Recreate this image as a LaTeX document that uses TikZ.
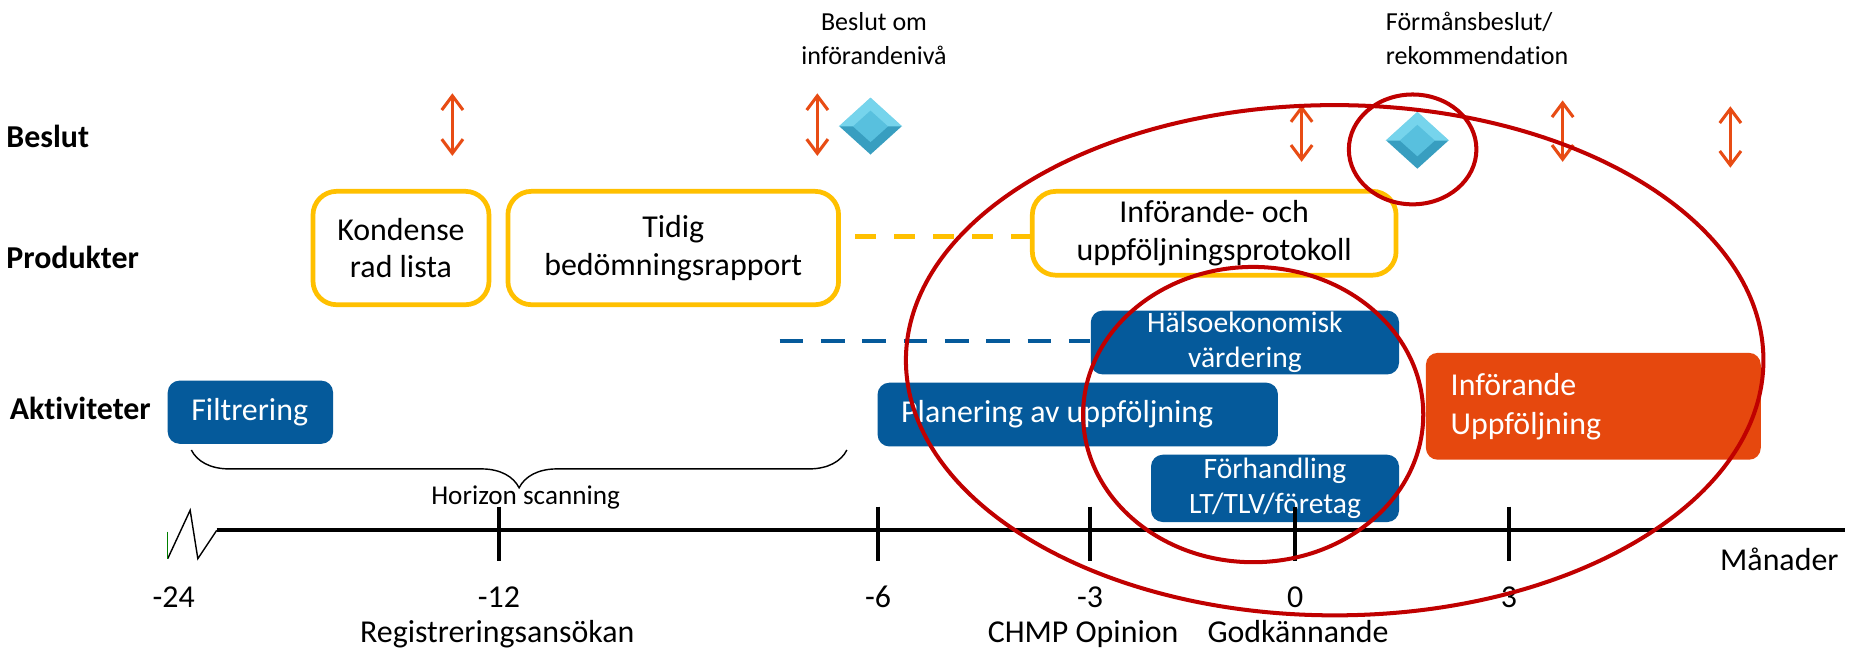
\documentclass[tikz,border=0pt]{standalone}
\usepackage{fontspec}
\setmainfont{Carlito}[Ligatures=CommonOff]
\usetikzlibrary{shapes.geometric,arrows.meta,decorations.pathreplacing,positioning}
\definecolor{mgul}{RGB}{255,192,0}
\definecolor{mbla}{RGB}{5,90,155}
\definecolor{morange}{RGB}{230,72,14}
\definecolor{mpil}{RGB}{232,76,20}
\definecolor{mrod}{RGB}{192,0,0}
\definecolor{mljus}{RGB}{118,212,236}
\definecolor{mmitt}{RGB}{88,192,222}
\definecolor{mmork}{RGB}{56,158,192}
\newcommand{\Romb}[3]{
  \node[diamond,minimum width=26.5pt,minimum height=24pt,inner sep=0pt,
  fill=mmork] (romb-#1) at (#2,#3) {};
  \fill[mljus] (romb-#1.west) -- (romb-#1.north) -- (romb-#1.east) -- cycle;
  \node[diamond,minimum width=15pt,minimum height=13.5pt,inner sep=0pt,
  fill=mmitt] (romb-#1-inre) at (romb-#1.center) {};
}

\begin{document}
\begin{tikzpicture}[x=0.5pt,y=0.5pt,
  rad/.style={font=\bfseries\fontsize{13.5}{15}\selectfont,anchor=base west,inner sep=0pt},
  produkt/.style={draw=mgul,line width=2pt,rounded corners=10pt,align=center,
    font=\fontsize{13.5}{16}\selectfont,inner sep=0pt},
  aktivitet/.style={fill=mbla,text=white,rounded corners=5pt,inner sep=0pt,
    font=\fontsize{13.5}{16.5}\selectfont},
  litenakt/.style={aktivitet,align=center,font=\fontsize{12.5}{15}\selectfont},
  pil/.style={mpil,line width=1.3pt,
    {Straight Barb[length=6pt,width=9pt]}-{Straight Barb[length=6pt,width=9pt]}},
  topp/.style={font=\fontsize{11}{14.5}\selectfont,inner sep=0pt,anchor=base},
  skala/.style={font=\fontsize{13.5}{16}\selectfont,anchor=base,inner sep=0pt},
  ring/.style={ellipse,draw=mrod,line width=1.7pt,inner sep=0pt}]
  \path[use as bounding box,fill=white] (0,0) rectangle (1568,551);

  \node[rad] (rad-beslut) at (5,426) {Beslut};
  \node[rad] (rad-produkter) at (5,324) {Produkter};
  \node[rad] (rad-aktiviteter) at (8,195.5) {Aktiviteter};

  \node[topp,align=center] (txt-niva) at (740,496) {Beslut om\\införandenivå};
  \node[topp,align=flush left,anchor=base west] (txt-forman) at (1173,496)
  {Förmånsbeslut/\\rekommendation};

  \foreach \x/\a/\b in {383/472/419,692/472/419,1102/462/414,1323/466/414,1465/461/409}
    \draw[pil] (\x,\a) -- (\x,\b);
  \Romb{a}{737}{444}
  \Romb{b}{1200}{432}

  \node[produkt,minimum width=74.5pt,minimum height=48pt] (box-kond) at (339.5,341)
  {Kondense\\rad lista};
  \node[produkt,minimum width=140pt,minimum height=48pt] (box-tidig) at (570,341)
  {Tidig\\bedömningsrapport};
  \node[produkt,minimum width=154pt,minimum height=35.5pt] (box-prot) at (1028,353.5)
  {Införande- och\\uppföljningsprotokoll};
  \coordinate (gul-start) at (724,351);
  \draw[mgul,line width=2.1pt,dash pattern=on 9pt off 7.5pt]
  (gul-start) -- (gul-start -| box-prot.west);

  \node[aktivitet,minimum width=70pt,minimum height=26.75pt,text width=50pt,
  inner xsep=10pt,align=flush left] (akt-filt) at (212,202) {Filtrering};
  \node[aktivitet,minimum width=169.5pt,minimum height=27pt,text width=149.5pt,
  inner xsep=10pt,align=flush left] (akt-plan) at (912.5,200) {Planering av uppföljning};
  \node[litenakt,minimum width=130.5pt,minimum height=27pt] (akt-halso) at (1054,261)
  {Hälsoekonomisk\\värdering};
  \node[litenakt,minimum width=105pt,minimum height=28.5pt] (akt-forh) at (1079.5,137.5)
  {Förhandling\\LT/TLV/företag};
  \node[aktivitet,fill=morange,minimum width=141.75pt,minimum height=45.25pt,
  text width=120.75pt,inner xsep=10.5pt,align=flush left] (akt-infupp) at (1349,207)
  {Införande\\Uppföljning};
  \coordinate (bla-start) at (660,262);
  \draw[mbla,line width=1.7pt,dash pattern=on 10pt off 7.5pt]
  (bla-start) -- (bla-start -| akt-halso.west);

  \draw[decorate,decoration={brace,mirror,amplitude=16pt},line width=0.6pt]
  (162,170) -- (717,170);
  \node[topp,font=\fontsize{11.5}{14}\selectfont] (txt-horizon) at (445,123.5)
  {Horizon scanning};

  \draw[line width=0.6pt] (142,78) -- (161,119) -- (167.5,78) -- (183.5,102);
  \draw[green!50!black,line width=0.6pt] (142,101) -- (142,78);
  \draw[line width=1.75pt] (183.5,102) -- (1562,102);
  \foreach \x/\m in {422.5/-12,743.5/-6,923/-3,1096.5/0,1277.5/3}{
    \draw[line width=1.5pt] (\x,122) -- (\x,76);
    \node[skala] (tal\m) at (\x,37) {\m};
  }
  \node[skala] (tal-24) at (147,37) {-24};
  \node[skala] (txt-reg) at (421,7) {Registreringsansökan};
  \node[skala] (txt-chmp) at (917,7) {CHMP Opinion};
  \node[skala] (txt-godk) at (1099,7) {Godkännande};
  \node[skala,anchor=base west] (txt-manad) at (1456,68) {Månader};

  \node[ring,minimum width=363pt,minimum height=216pt] (ring-stor) at (1130,246) {};
  \node[ring,minimum width=144pt,minimum height=125pt] (ring-mellan) at (1061,200) {};
  \node[ring,minimum width=54pt,minimum height=46.5pt] (ring-liten) at (1196,424.5) {};
\end{tikzpicture}
\end{document}
